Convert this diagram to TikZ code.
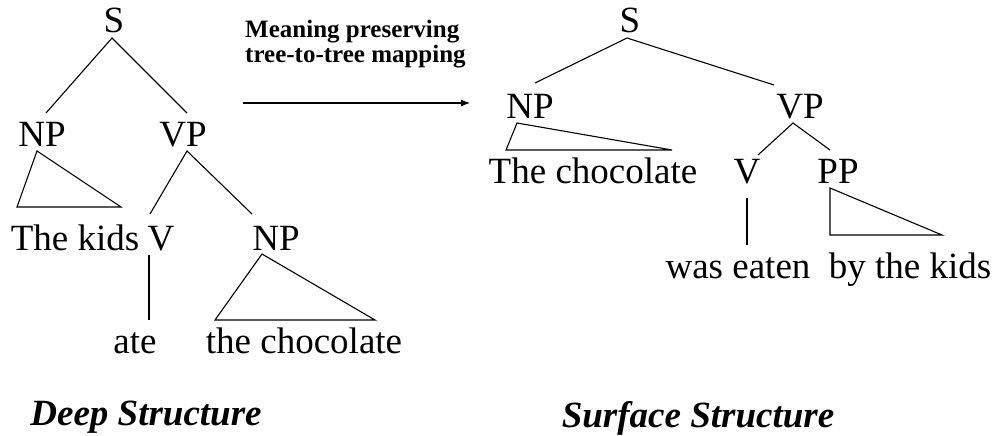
\documentclass[tikz,border=0pt]{standalone}
\usepackage{fontspec}
\setmainfont{Liberation Serif}
\usetikzlibrary{arrows.meta}
\begin{document}
\begin{tikzpicture}[x=1pt,y=-1pt,
  lbl/.style={anchor=base,inner sep=0pt,font=\fontsize{37}{40}\selectfont},
  ttl/.style={anchor=base,inner sep=0pt,font=\fontsize{37}{40}\selectfont\bfseries\itshape},
  maplabel/.style={anchor=base west,inner sep=0pt,font=\fontsize{25}{28}\selectfont\bfseries},
  edge/.style={line width=1.1pt,line join=miter},
  maparrow/.style={line width=1.2pt,-{Latex[length=9pt,width=7pt]}}]
\useasboundingbox[fill=white] (0,0) rectangle (1001,436);

% ---------- Deep structure (left) ----------
\node[lbl] (lS)   at (114,33)  {S};
\node[lbl] (lNP)  at (42,146)  {NP};
\node[lbl] (lVP)  at (183,146) {VP};
\node[lbl] (lkids) at (75,250) {The kids};
\node[lbl] (lV)   at (161,250) {V};
\node[lbl] (lNP2) at (276,250) {NP};
\node[lbl] (late) at (135,353) {ate};
\node[lbl] (lchoc) at (304,353) {the chocolate};
\node[ttl] (deep) at (146,425) {Deep Structure};

\coordinate (lS-b)   at (112,38);
\coordinate (lNP-t)  at (46,113);
\coordinate (lVP-t)  at (187,113);
\coordinate (lNP-a)  at (37,151);
\coordinate (lNP-l)  at (17,207);
\coordinate (lNP-r)  at (121,207);
\coordinate (lVP-a)  at (187,151);
\coordinate (lV-t)   at (150,214);
\coordinate (lNP2-t) at (252,214);
\coordinate (lV-b)   at (149,255);
\coordinate (late-t) at (149,320);
\coordinate (lNP2-a) at (262,254);
\coordinate (lNP2-l) at (215,320);
\coordinate (lNP2-r) at (375,320);

\draw[edge] (lNP-t) -- (lS-b) -- (lVP-t);
\draw[edge] (lNP-a) -- (lNP-l) -- (lNP-r) -- cycle;
\draw[edge] (lV-t) -- (lVP-a) -- (lNP2-t);
\draw[edge] (lV-b) -- (late-t);
\draw[edge] (lNP2-a) -- (lNP2-l) -- (lNP2-r) -- cycle;

% ---------- mapping arrow ----------
\node[maplabel] (cap1) at (245,38) {Meaning preserving};
\node[maplabel] (cap2) at (245,63) {tree-to-tree mapping};
\coordinate (arrS) at (243,103);
\coordinate (arrE) at (470,103);
\draw[maparrow] (arrS) -- (arrE);

% ---------- Surface structure (right) ----------
\node[lbl] (rS)   at (630,33)  {S};
\node[lbl] (rNP)  at (530,118) {NP};
\node[lbl] (rVP)  at (800,118) {VP};
\node[lbl] (rchoc) at (593,183) {The chocolate};
\node[lbl] (rV)   at (747,183) {V};
\node[lbl] (rPP)  at (838,183) {PP};
\node[lbl] (reaten) at (738,278) {was eaten};
\node[lbl] (rkids) at (910,278) {by the kids};
\node[ttl] (surf) at (698,427) {Surface Structure};

\coordinate (rS-b)   at (627,38);
\coordinate (rNP-t)  at (535,83);
\coordinate (rVP-t)  at (774,85);
\coordinate (rNP-a)  at (517,123);
\coordinate (rNP-l)  at (506,150);
\coordinate (rNP-r)  at (672,150);
\coordinate (rVP-a)  at (793,123);
\coordinate (rV-t)   at (758,155);
\coordinate (rPP-t)  at (830,150);
\coordinate (rV-b)   at (747,198);
\coordinate (reat-t) at (747,245);
\coordinate (rPP-a)  at (830,188);
\coordinate (rPP-l)  at (830,235);
\coordinate (rPP-r)  at (942,235);

\draw[edge] (rNP-t) -- (rS-b) -- (rVP-t);
\draw[edge] (rNP-a) -- (rNP-l) -- (rNP-r) -- cycle;
\draw[edge] (rV-t) -- (rVP-a) -- (rPP-t);
\draw[edge] (rV-b) -- (reat-t);
\draw[edge] (rPP-a) -- (rPP-l) -- (rPP-r) -- cycle;
\end{tikzpicture}
\end{document}
